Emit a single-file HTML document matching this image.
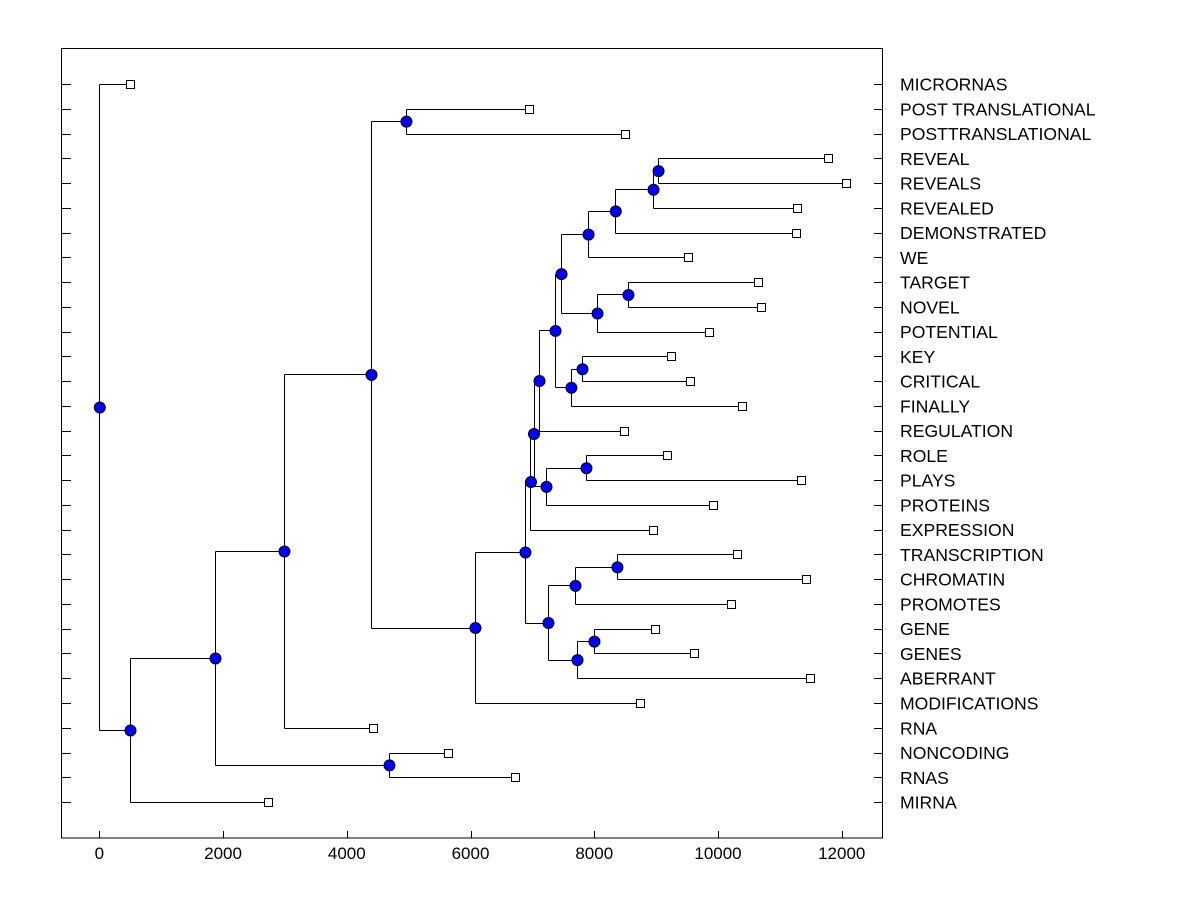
<!DOCTYPE html>
<html><head><meta charset="utf-8">
<style>
html,body{margin:0;padding:0;background:#fff;}
svg{display:block;font-family:"Liberation Sans",Arial,sans-serif;}
</style></head>
<body>
<svg id="chart" width="1200" height="900" viewBox="0 0 1200 900" xmlns="http://www.w3.org/2000/svg">
<rect x="0" y="0" width="1200" height="900" fill="#fff"/>
<rect x="61.5" y="48.5" width="821" height="789.5" fill="none" stroke="#000" stroke-width="1"/>
<g id="ticks"></g>
<g id="links"></g>
<g id="marks"></g>
<g id="labels"></g>
</svg>
<script>
const labels = ["MICRORNAS","POST TRANSLATIONAL","POSTTRANSLATIONAL","REVEAL","REVEALS","REVEALED","DEMONSTRATED","WE","TARGET","NOVEL","POTENTIAL","KEY","CRITICAL","FINALLY","REGULATION","ROLE","PLAYS","PROTEINS","EXPRESSION","TRANSCRIPTION","CHROMATIN","PROMOTES","GENE","GENES","ABERRANT","MODIFICATIONS","RNA","NONCODING","RNAS","MIRNA"];
const leafHeights = [496,6945,8497,11778,12069,11277,11261,9515,10646,10694,9854,9240,9547,10387,8481,9176,11341,9919,8949,10307,11422,10210,8981,9611,11487,8739,4424,5636,6719,2727];
const mergeLeft  = [3,30,31,32,8,34,33,11,37,36,39,15,41,40,43,19,45,22,47,46,44,50,1,52,53,27,54,56,0];
const mergeRight = [4,5,6,7,9,10,35,12,13,38,14,16,17,42,18,20,21,23,24,48,49,25,2,51,26,28,55,29,57];
const mergeHeights = [9031,8950,8340,7900,8545,8045,7463,7802,7623,7366,7107,7866,7220,7018,6969,8367,7689,7995,7721,7252,6880,6072,4957,4392,2985,4682,1870,496,0];
const xTicks = [0,2000,4000,6000,8000,10000,12000];

const NS = "http://www.w3.org/2000/svg";
const xScale = v => 99.3 + v * 0.06187;
const yScale = i => 84 + i * 24.76;
function mk(tag, attrs, parent){
  const e = document.createElementNS(NS, tag);
  for (const k in attrs) e.setAttribute(k, attrs[k]);
  parent.appendChild(e); return e;
}
const gT = document.getElementById('ticks'), gL = document.getElementById('links'),
      gM = document.getElementById('marks'), gLab = document.getElementById('labels');

const nx = [], ny = [];
leafHeights.forEach((h,i)=>{ nx.push(xScale(h)); ny.push(yScale(i)); });
mergeHeights.forEach((h,k)=>{
  const a = mergeLeft[k], b = mergeRight[k];
  nx.push(xScale(h)); ny.push((ny[a]+ny[b])/2);
});

labels.forEach((lab,i)=>{
  const y = Math.round(yScale(i))+0.5;
  const t1 = mk('line',{x1:61,x2:71,y1:y,y2:y,stroke:'#000'},gT);
  
  
  const t2 = mk('line',{x1:874,x2:883,y1:y,y2:y,stroke:'#000'},gT);
  
  
  const tx = mk('text',{x:900,y:yScale(i)+6.5,'font-size':17.6,fill:'#000'},gLab);
  tx.textContent = lab;
  
  
});
xTicks.forEach(v=>{
  const x = Math.round(xScale(v))+0.5;
  const t = mk('line',{x1:x,x2:x,y1:831,y2:838,stroke:'#000'},gT);
  
  
  const tx = mk('text',{x:xScale(v),y:859,'font-size':17,'text-anchor':'middle',fill:'#000'},gLab);
  tx.textContent = String(v);
  
  
});

mergeHeights.forEach((h,k)=>{
  const id = leafHeights.length + k;
  const a = mergeLeft[k], b = mergeRight[k];
  const x = Math.round(nx[id])+0.5;
  const v = mk('line',{x1:x,x2:x,y1:Math.round(ny[a])+0.5,y2:Math.round(ny[b])+0.5,stroke:'#000'},gL);
  
  
  [a,b].forEach(c=>{
    const y = Math.round(ny[c])+0.5;
    const hz = mk('line',{x1:x,x2:nx[c],y1:y,y2:y,stroke:'#000'},gL);
    
    
  });
});
leafHeights.forEach((h,i)=>{
  const r = mk('rect',{x:Math.round(nx[i])-4+0.5,y:Math.round(ny[i])-4+0.5,width:8,height:8,fill:'#fff',stroke:'#000'},gM);
  
  
});
mergeHeights.forEach((h,k)=>{
  const id = leafHeights.length + k;
  const c = mk('circle',{cx:nx[id]+0.5,cy:ny[id]+0.5,r:5.5,fill:'#0000ff',stroke:'#000','stroke-width':1},gM);
  
  
});
</script>
</body></html>
